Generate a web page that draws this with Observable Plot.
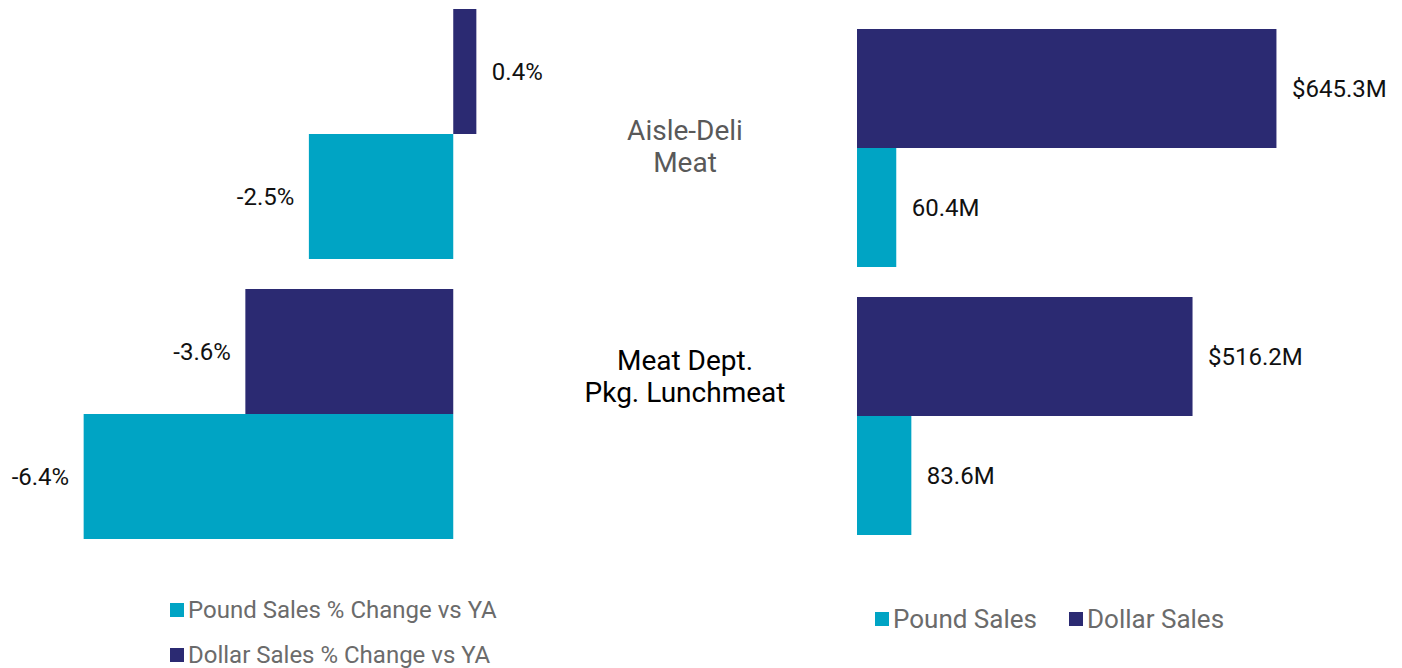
<!DOCTYPE html>
<html>
<head>
<meta charset="utf-8">
<script src="https://cdn.jsdelivr.net/npm/d3@7"></script>
<script src="https://cdn.jsdelivr.net/npm/@observablehq/plot@0.6"></script>
<style>
  body { margin: 0; background: #fff; font-family: Roboto, "Noto Sans", sans-serif; }
  #root { position: relative; width: 1402px; height: 668px; overflow: hidden; }
  .abs { position: absolute; }
  .cat { position: absolute; text-align: center; font-size: 28px; line-height: 32px; transform: translateX(-50%); white-space: nowrap; }
  .leg { position: absolute; display: flex; align-items: center; font-size: 24px; color: #6b6b6b; white-space: nowrap; }
  .sw { display: inline-block; width: 14px; height: 14px; margin-right: 4px; }
</style>
</head>
<body>
<div id="root"></div>
<script>
const categories = ["Aisle-Deli Meat", "Meat Dept. Pkg. Lunchmeat"];
const categoryLines = [["Aisle-Deli", "Meat"], ["Meat Dept.", "Pkg. Lunchmeat"]];
const categoryColors = ["#595959", "#000000"];
const series = ["Dollar", "Pound"];
const pctDollar = [0.4, -3.6];
const pctPound = [-2.5, -6.4];
const salesDollar = [645.3, 516.2];
const salesPound = [60.4, 83.6];
const colorDollar = "#2b2a72";
const colorPound = "#00a4c4";
const leftLegend = ["Pound Sales % Change vs YA", "Dollar Sales % Change vs YA"];
const rightLegend = ["Pound Sales", "Dollar Sales"];

const pctData = [];
const salesData = [];
categories.forEach((c, i) => {
  pctData.push({cat: c, s: "Dollar", v: pctDollar[i]});
  pctData.push({cat: c, s: "Pound", v: pctPound[i]});
  salesData.push({cat: c, s: "Dollar", v: salesDollar[i], label: "$" + salesDollar[i].toFixed(1) + "M"});
  salesData.push({cat: c, s: "Pound", v: salesPound[i], label: salesPound[i].toFixed(1) + "M"});
});

const root = document.getElementById("root");
const fontStyle = {fontFamily: "Roboto, sans-serif", fontSize: "24px", background: "transparent"};

const left = Plot.plot({
  width: 560,
  height: 560,
  marginTop: 9,
  marginBottom: 21,
  marginLeft: 0,
  marginRight: 0,
  style: fontStyle,
  x: {domain: [-7, 1], range: [49, 511], axis: null},
  fy: {domain: categories, paddingInner: 30 / 280, paddingOuter: 0, axis: null},
  y: {domain: series, padding: 0, axis: null},
  color: {domain: series, range: [colorDollar, colorPound]},
  marks: [
    Plot.barX(pctData, {x: "v", y: "s", fy: "cat", fill: "s"}),
    Plot.text(pctData.filter(d => d.v >= 0), {x: "v", y: "s", fy: "cat", text: d => d.v.toFixed(1) + "%", textAnchor: "start", dx: 15, fill: "#111", fontSize: 24}),
    Plot.text(pctData.filter(d => d.v < 0), {x: "v", y: "s", fy: "cat", text: d => d.v.toFixed(1) + "%", textAnchor: "end", dx: -15, fill: "#111", fontSize: 24})
  ]
});
left.classList.add("abs");
left.style.left = "0px";
left.style.top = "0px";
root.appendChild(left);

const right = Plot.plot({
  width: 842,
  height: 560,
  marginTop: 28,
  marginBottom: 25,
  marginLeft: 0,
  marginRight: 0,
  style: fontStyle,
  x: {domain: [0, 700], range: [297, 752], axis: null},
  fy: {domain: categories, paddingInner: 29 / 268, paddingOuter: 0, axis: null},
  y: {domain: series, padding: 0, axis: null},
  color: {domain: series, range: [colorDollar, colorPound]},
  marks: [
    Plot.barX(salesData, {x: "v", y: "s", fy: "cat", fill: "s"}),
    Plot.text(salesData, {x: "v", y: "s", fy: "cat", text: "label", textAnchor: "start", dx: 15, fill: "#111", fontSize: 24})
  ]
});
right.classList.add("abs");
right.style.left = "560px";
right.style.top = "0px";
root.appendChild(right);

// Category labels
const catTops = [115, 345];
categoryLines.forEach((lines, i) => {
  const d = document.createElement("div");
  d.className = "cat";
  d.style.left = "685px";
  d.style.top = catTops[i] + "px";
  d.style.color = categoryColors[i];
  d.innerHTML = lines.join("<br>");
  root.appendChild(d);
});

// Legends
function legendItem(text, color, x, y, size) {
  const d = document.createElement("div");
  d.className = "leg";
  d.style.left = x + "px";
  d.style.top = y + "px";
  d.style.fontSize = size + "px";
  const sw = document.createElement("span");
  sw.className = "sw";
  sw.style.background = color;
  d.appendChild(sw);
  d.appendChild(document.createTextNode(text));
  root.appendChild(d);
}
legendItem(leftLegend[0], colorPound, 170, 596, 24);
legendItem(leftLegend[1], colorDollar, 170, 641, 24);
legendItem(rightLegend[0], colorPound, 875, 604, 26);
legendItem(rightLegend[1], colorDollar, 1069, 604, 26);
</script>
</body>
</html>
